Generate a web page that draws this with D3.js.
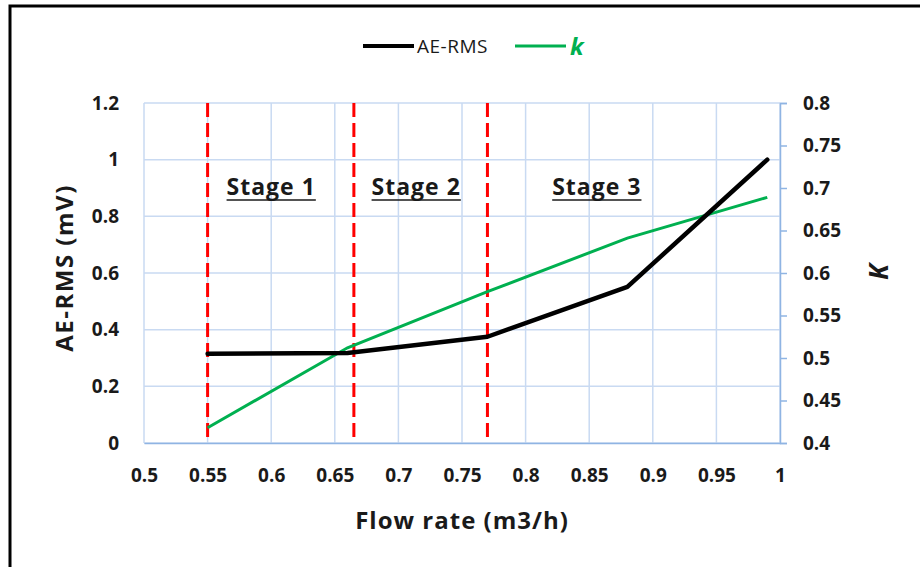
<!DOCTYPE html>
<html>
<head>
<meta charset="utf-8">
<script src="https://cdn.jsdelivr.net/npm/d3@7"></script>
<style>
  body { margin: 0; background: #fff; }
  svg text { font-family: "Open Sans", "Liberation Sans", sans-serif; }
</style>
</head>
<body>
<div id="chart"></div>
<script>
// data
const flowRate = [0.55, 0.66, 0.77, 0.88, 0.99];
const aeRms = [0.315, 0.318, 0.375, 0.551, 1.0];
const kValues = [0.418, 0.512, 0.578, 0.641, 0.689];
const stageBounds = [0.55, 0.665, 0.77];
const stageLabels = [
  { name: 'Stage 1', x: 0.6 },
  { name: 'Stage 2', x: 0.714 },
  { name: 'Stage 3', x: 0.856 }
];
const xTicks = [0.5, 0.55, 0.6, 0.65, 0.7, 0.75, 0.8, 0.85, 0.9, 0.95, 1];
const yLeftTicks = [0, 0.2, 0.4, 0.6, 0.8, 1, 1.2];
const yRightTicks = [0.4, 0.45, 0.5, 0.55, 0.6, 0.65, 0.7, 0.75, 0.8];

const width = 920, height = 567;
const margin = { top: 103, bottom: 124, left: 144, right: 140 };
const chartWidth = width - margin.left - margin.right;
const chartHeight = height - margin.top - margin.bottom;

const svg = d3.select('#chart').append('svg')
  .attr('width', width)
  .attr('height', height);

// outer frame
svg.append('rect')
  .attr('x', 10).attr('y', 6)
  .attr('width', 930).attr('height', 600)
  .attr('fill', 'none')
  .attr('stroke', '#000')
  .attr('stroke-width', 3);

const chart = svg.append('g')
  .attr('transform', `translate(${margin.left},${margin.top})`);

const xScale = d3.scaleLinear().domain([0.5, 1]).range([0, chartWidth]);
const yLeft = d3.scaleLinear().domain([0, 1.2]).range([chartHeight, 0]);
const yRight = d3.scaleLinear().domain([0.4, 0.8]).range([chartHeight, 0]);

const gridColor = '#c9daf2';
const axisColor = '#8fb4e3';

// gridlines
chart.append('g')
  .selectAll('line')
  .data(xTicks)
  .enter().append('line')
  .attr('x1', d => xScale(d)).attr('x2', d => xScale(d))
  .attr('y1', 0).attr('y2', chartHeight)
  .attr('stroke', gridColor).attr('stroke-width', 1.5);

chart.append('g')
  .selectAll('line')
  .data(yLeftTicks)
  .enter().append('line')
  .attr('x1', 0).attr('x2', chartWidth)
  .attr('y1', d => yLeft(d)).attr('y2', d => yLeft(d))
  .attr('stroke', gridColor).attr('stroke-width', 1.5);

// x axis
const xAxis = d3.axisBottom(xScale)
  .tickValues(xTicks)
  .tickSize(0)
  .tickPadding(26)
  .tickFormat(d3.format('~g'));
const gx = chart.append('g')
  .attr('transform', `translate(0,${chartHeight})`)
  .call(xAxis);
gx.select('.domain').attr('stroke', axisColor).attr('stroke-width', 1.5);

// left axis
const yAxisL = d3.axisLeft(yLeft)
  .tickValues(yLeftTicks)
  .tickSize(0)
  .tickPadding(25)
  .tickFormat(d3.format('~g'));
const gyl = chart.append('g').call(yAxisL);
gyl.select('.domain').remove();

// right axis
const yAxisR = d3.axisRight(yRight)
  .tickValues(yRightTicks)
  .tickSizeInner(7)
  .tickSizeOuter(7)
  .tickPadding(16)
  .tickFormat(d3.format('~g'));
const gyr = chart.append('g')
  .attr('transform', `translate(${chartWidth},0)`)
  .call(yAxisR);
gyr.select('.domain').attr('stroke', axisColor).attr('stroke-width', 1.5);
gyr.selectAll('.tick line').attr('stroke', axisColor).attr('stroke-width', 1.5);

chart.selectAll('.tick text')
  .attr('font-size', 19)
  .attr('font-weight', 'bold')
  .attr('fill', '#1a1a1a');

// stage boundaries
chart.append('g')
  .selectAll('line')
  .data(stageBounds)
  .enter().append('line')
  .attr('x1', d => xScale(d)).attr('x2', d => xScale(d))
  .attr('y1', 0).attr('y2', chartHeight)
  .attr('stroke', '#ff0000')
  .attr('stroke-width', 3)
  .attr('stroke-dasharray', '14,6');

// stage labels
stageLabels.forEach(s => {
  const t = chart.append('text')
    .attr('x', xScale(s.x))
    .attr('y', 92)
    .attr('text-anchor', 'middle')
    .attr('font-size', 23)
    .attr('font-weight', 'bold')
    .attr('letter-spacing', 1)
    .attr('fill', '#1a1a1a')
    .text(s.name);
  const w = t.node().getComputedTextLength();
  chart.append('line')
    .attr('x1', xScale(s.x) - w / 2).attr('x2', xScale(s.x) + w / 2)
    .attr('y1', 97).attr('y2', 97)
    .attr('stroke', '#1a1a1a').attr('stroke-width', 1.5);
});

// series
const kLine = d3.line()
  .x((d, i) => xScale(flowRate[i]))
  .y(d => yRight(d));
const aeLine = d3.line()
  .x((d, i) => xScale(flowRate[i]))
  .y(d => yLeft(d));

chart.append('path')
  .datum(kValues)
  .attr('d', kLine)
  .attr('fill', 'none')
  .attr('stroke', '#00b050')
  .attr('stroke-width', 3);

chart.append('path')
  .datum(aeRms)
  .attr('d', aeLine)
  .attr('fill', 'none')
  .attr('stroke', '#000')
  .attr('stroke-width', 4.5)
  .attr('stroke-linejoin', 'round')
  .attr('stroke-linecap', 'round');

// axis titles
svg.append('text')
  .attr('transform', `translate(73, 268) rotate(-90)`)
  .attr('text-anchor', 'middle')
  .attr('font-size', 24)
  .attr('font-weight', 'bold')
  .attr('letter-spacing', 1.5)
  .attr('fill', '#1a1a1a')
  .text('AE-RMS (mV)');

svg.append('text')
  .attr('transform', `translate(888, 272) rotate(-90)`)
  .attr('text-anchor', 'middle')
  .attr('font-size', 26)
  .attr('font-weight', 'bold')
  .attr('font-style', 'italic')
  .attr('fill', '#1a1a1a')
  .text('K');

svg.append('text')
  .attr('x', 462)
  .attr('y', 529)
  .attr('text-anchor', 'middle')
  .attr('font-size', 24)
  .attr('font-weight', 'bold')
  .attr('letter-spacing', 1)
  .attr('fill', '#1a1a1a')
  .text('Flow rate (m3/h)');

// legend
const legend = svg.append('g');
legend.append('line')
  .attr('x1', 363).attr('x2', 414).attr('y1', 46).attr('y2', 46)
  .attr('stroke', '#000').attr('stroke-width', 4);
legend.append('text')
  .attr('x', 417).attr('y', 53)
  .attr('font-size', 19)
  .attr('letter-spacing', 0.5)
  .attr('fill', '#1a1a1a')
  .text('AE-RMS');
legend.append('line')
  .attr('x1', 515).attr('x2', 566).attr('y1', 46).attr('y2', 46)
  .attr('stroke', '#00b050').attr('stroke-width', 3);
legend.append('text')
  .attr('x', 570).attr('y', 55)
  .attr('font-size', 24)
  .attr('font-weight', 'bold')
  .attr('font-style', 'italic')
  .attr('fill', '#00b050')
  .text('k');
</script>
</body>
</html>
